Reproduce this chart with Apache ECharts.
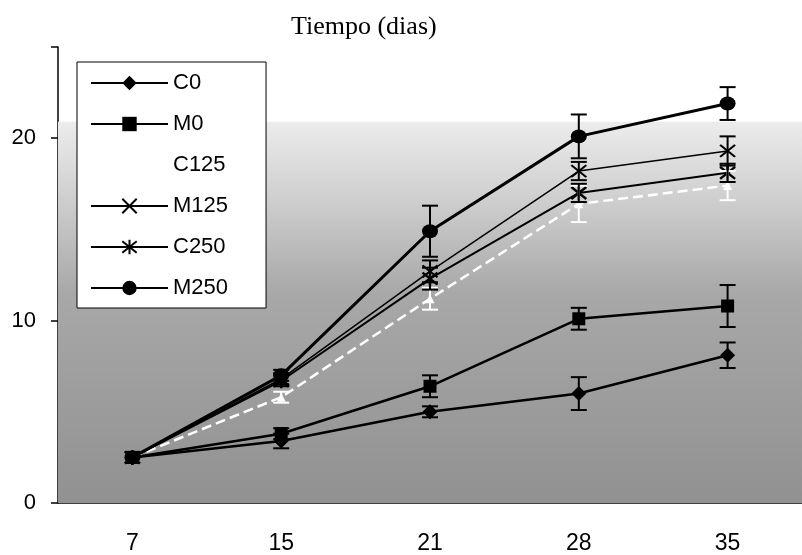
<!DOCTYPE html>
<html>
<head>
<meta charset="utf-8">
<script src="https://cdn.jsdelivr.net/npm/echarts@6/dist/echarts.min.js"></script>
<style>
  html, body { margin: 0; padding: 0; background: #fff; }
  #m1 { width: 802px; height: 555px; }
</style>
</head>
<body>
<div id="m1"></div>
<script>
// 时间（天）
var days = ['7', '15', '21', '28', '35'];
var yTicks = [0, 10, 20];

// 各组数值及误差
var c0 = [2.5, 3.4, 5.0, 6.0, 8.1];
var c0Err = [0, 0.4, 0.3, 0.9, 0.7];
var m0 = [2.5, 3.8, 6.4, 10.1, 10.8];
var m0Err = [0, 0.3, 0.6, 0.6, 1.15];
var c125 = [2.5, 5.8, 11.2, 16.4, 17.4];
var c125Err = [0, 0.3, 0.6, 1.0, 0.8];
var m125 = [2.5, 6.8, 12.7, 18.2, 19.3];
var m125Err = [0, 0.3, 0.6, 0.5, 0.8];
var c250 = [2.5, 6.7, 12.3, 17.0, 18.1];
var c250Err = [0, 0.3, 0.6, 0.5, 0.5];
var m250 = [2.5, 7.0, 14.9, 20.1, 21.9];
var m250Err = [0, 0.3, 1.4, 1.2, 0.9];

var shadeTop = 20.9;

var crossPath = 'path://M0,0L10,10M10,0L0,10';
var starPath = 'path://M1,1L9,9M9,1L1,9M5,0L5,10';

function errBars(vals, errs, color) {
    var data = [];
    vals.forEach(function (v, i) {
        if (errs[i] > 0) data.push([i, v - errs[i], v + errs[i]]);
    });
    return {
        type: 'custom',
        z: 4,
        silent: true,
        data: data,
        renderItem: function (params, api) {
            var lo = api.coord([api.value(0), api.value(1)]);
            var hi = api.coord([api.value(0), api.value(2)]);
            var w = 8;
            var st = { stroke: color, lineWidth: 2 };
            return {
                type: 'group',
                children: [
                    { type: 'line', shape: { x1: lo[0], y1: lo[1], x2: hi[0], y2: hi[1] }, style: st },
                    { type: 'line', shape: { x1: lo[0] - w, y1: lo[1], x2: lo[0] + w, y2: lo[1] }, style: st },
                    { type: 'line', shape: { x1: hi[0] - w, y1: hi[1], x2: hi[0] + w, y2: hi[1] }, style: st }
                ]
            };
        }
    };
}

var myChart = echarts.init(document.getElementById('m1'));
var option = {
    animation: false,
    title: {
        text: 'Tiempo (dias)',
        left: 286,
        top: 9,
        textStyle: { fontFamily: 'Liberation Serif', fontSize: 26, fontWeight: 'normal', color: '#000' }
    },
    legend: {
        orient: 'vertical',
        left: 77,
        top: 62,
        padding: [10, 38, 9, 13],
        itemGap: 19,
        itemWidth: 77,
        itemHeight: 18,
        backgroundColor: '#fff',
        borderColor: '#000',
        borderWidth: 1,
        z: 10,
        selectedMode: false,
        textStyle: { fontFamily: 'Liberation Sans', fontSize: 22, color: '#000' },
        data: ['C0', 'M0', 'C125', 'M125', 'C250', 'M250']
    },
    grid: {
        left: 58,
        top: 47,
        right: -11,
        bottom: 52
    },
    xAxis: {
        type: 'category',
        data: days,
        boundaryGap: true,
        axisLine: { lineStyle: { color: '#000', width: 1.5 } },
        axisTick: { length: 10, lineStyle: { color: '#000', width: 1.5 } },
        axisLabel: { margin: 29, fontFamily: 'Liberation Sans', fontSize: 23, color: '#000' }
    },
    yAxis: {
        type: 'value',
        min: 0,
        max: 25,
        interval: 10,
        splitLine: { show: false },
        axisLine: { show: true, lineStyle: { color: '#000', width: 1.5 } },
        axisTick: { show: true, length: 7, lineStyle: { color: '#000', width: 1.5 } },
        axisLabel: {
            margin: 22,
            fontFamily: 'Liberation Sans',
            fontSize: 22,
            color: '#000',
            formatter: function (v) { return yTicks.indexOf(v) >= 0 ? String(v) : ''; }
        }
    },
    series: [
        {
            name: 'shade',
            type: 'line',
            data: [],
            z: 0,
            silent: true,
            markArea: {
                silent: true,
                itemStyle: {
                    color: {
                        type: 'linear', x: 0, y: 0, x2: 0, y2: 1,
                        colorStops: [
                            { offset: 0, color: '#ececec' },
                            { offset: 0.2, color: '#cfcfcf' },
                            { offset: 0.45, color: '#a8a8a8' },
                            { offset: 1, color: '#919191' }
                        ]
                    }
                },
                data: [[{ yAxis: 0 }, { yAxis: shadeTop }]]
            }
        },
        {
            name: 'C0', type: 'line', data: c0, z: 3,
            symbol: 'diamond', symbolSize: 15,
            itemStyle: { color: '#000' },
            lineStyle: { color: '#000', width: 2.5 }
        },
        {
            name: 'M0', type: 'line', data: m0, z: 3,
            symbol: 'rect', symbolSize: 13,
            itemStyle: { color: '#000' },
            lineStyle: { color: '#000', width: 2.5 }
        },
        {
            name: 'C125', type: 'line', data: c125, z: 2,
            symbol: 'triangle', symbolSize: 9,
            itemStyle: { color: '#fff' },
            lineStyle: { color: '#fff', width: 2.5, type: 'dashed' }
        },
        {
            name: 'M125', type: 'line', data: m125, z: 3,
            symbol: crossPath, symbolSize: [15, 12],
            itemStyle: { color: '#000', borderColor: '#000', borderWidth: 2 },
            lineStyle: { color: '#000', width: 1.5 }
        },
        {
            name: 'C250', type: 'line', data: c250, z: 3,
            symbol: starPath, symbolSize: 15,
            itemStyle: { color: '#000', borderColor: '#000', borderWidth: 2.5 },
            lineStyle: { color: '#000', width: 2 }
        },
        {
            name: 'M250', type: 'line', data: m250, z: 3,
            symbol: 'circle', symbolSize: [16, 14],
            itemStyle: { color: '#000' },
            lineStyle: { color: '#000', width: 3 }
        },
        errBars(c0, c0Err, '#000'),
        errBars(m0, m0Err, '#000'),
        errBars(c125, c125Err, '#fff'),
        errBars(m125, m125Err, '#000'),
        errBars(c250, c250Err, '#000'),
        errBars(m250, m250Err, '#000')
    ]
};
myChart.setOption(option);
</script>
</body>
</html>
